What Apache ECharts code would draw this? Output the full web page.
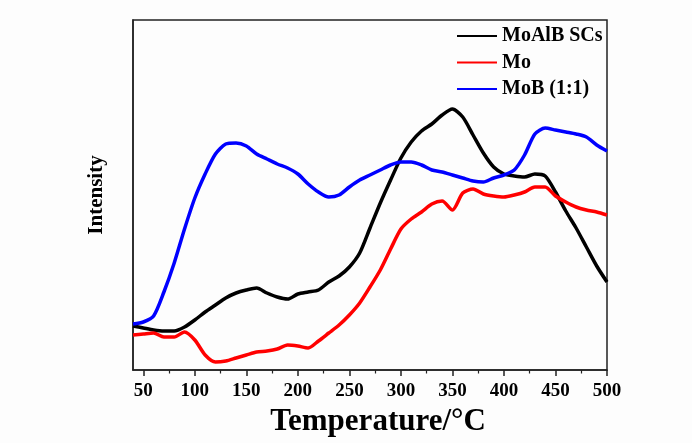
<!DOCTYPE html>
<html>
<head>
<meta charset="utf-8">
<script src="https://cdn.jsdelivr.net/npm/echarts@6/dist/echarts.min.js"></script>
<style>
html,body{margin:0;padding:0;background:#fdfdfd;}
#c{width:692px;height:443px;}
</style>
</head>
<body>
<div id="c"></div>
<script>
var temps = [40,50,60,70,80,90,100,110,120,130,140,150,160,170,180,190,200,210,220,230,240,250,260,270,280,290,300,310,320,330,340,350,360,370,380,390,400,410,420,430,440,450,460,470,480,490,500];
var moalb = [44,42,40,39,39,43,50,58,65,72,77,80,82,77,73,71,76,78,80,88,94,103,117,142,167,190,212,228,239,246,255,261,253,235,217,203,196,194,193,196,194,178,159,142,123,104,88];
var mo = [35,36,37,33,33,38,30,15,8,9,12,15,18,19,21,25,24,22,29,37,45,55,67,83,100,121,141,151,158,166,169,160,177,181,176,174,173,175,178,183,183,174,168,163,160,158,155];
var mob = [46,48,54,78,107,141,172,196,216,226,227,224,216,211,206,202,196,186,178,173,175,183,190,195,200,205,208,208,205,200,198,195,192,189,188,192,195,200,215,236,242,240,238,236,233,225,219];
var seriesNames = ['MoAlB SCs','Mo','MoB (1:1)'];
var majorTicks = [50,100,150,200,250,300,350,400,450,500];
var minorTicks = [75,125,175,225,275,325,375,425,475];

function pairs(vals){ return temps.map(function(t,i){ return [t, vals[i]]; }); }
var font = "'Liberation Serif','Times New Roman',serif";
var chart = echarts.init(document.getElementById('c'));
chart.setOption({
  backgroundColor:'#fdfdfd',
  animation:false,
  grid:{left:133,right:85,top:20,bottom:73,show:true,borderColor:'#222',borderWidth:1.5,backgroundColor:'transparent'},
  legend:{
    orient:'vertical', left:452, top:21, itemWidth:40, itemHeight:2, itemGap:6.5,
    icon:'rect',
    data:seriesNames,
    textStyle:{fontFamily:font,fontWeight:'bold',fontSize:20,color:'#000'}
  },
  xAxis:[{
    type:'value', min:40, max:500,
    name:'Temperature/°C', nameLocation:'middle', nameGap:36,
    nameTextStyle:{fontFamily:font,fontWeight:'bold',fontSize:31,color:'#000',padding:[0,0,0,16]},
    axisLine:{show:true,lineStyle:{color:'#222',width:1.5}},
    axisTick:{show:true,inside:false,length:6,customValues:majorTicks,lineStyle:{color:'#222',width:1.5}},
    axisLabel:{customValues:majorTicks,margin:12,fontFamily:font,fontWeight:'bold',fontSize:19,color:'#000'},
    splitLine:{show:false}
  },{
    type:'value', min:40, max:500, position:'bottom',
    axisLine:{show:false},
    axisTick:{show:true,inside:false,length:3.5,customValues:minorTicks,lineStyle:{color:'#222',width:1.2}},
    axisLabel:{show:false},
    splitLine:{show:false}
  }],
  yAxis:{
    type:'value', min:0, max:350,
    name:'Intensity', nameLocation:'middle', nameGap:26,
    nameTextStyle:{fontFamily:font,fontWeight:'bold',fontSize:21,color:'#000'},
    axisLine:{show:true,lineStyle:{color:'#222',width:1.5}},
    axisTick:{show:false}, axisLabel:{show:false}, splitLine:{show:false}
  },
  series:[
    {name:seriesNames[0],type:'line',data:pairs(moalb),symbol:'none',smooth:0.25,lineStyle:{color:'#000',width:3.5},itemStyle:{color:'#000'}},
    {name:seriesNames[1],type:'line',data:pairs(mo),symbol:'none',smooth:0.25,lineStyle:{color:'#ff0000',width:3.5},itemStyle:{color:'#ff0000'}},
    {name:seriesNames[2],type:'line',data:pairs(mob),symbol:'none',smooth:0.25,lineStyle:{color:'#0000ff',width:3.5},itemStyle:{color:'#0000ff'}}
  ]
});
</script>
</body>
</html>
